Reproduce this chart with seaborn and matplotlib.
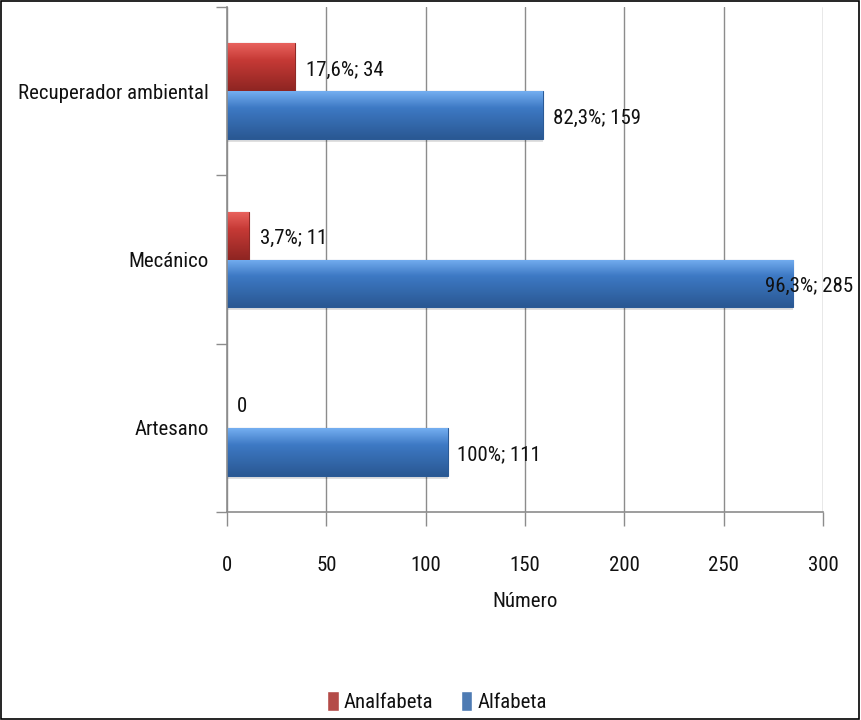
import matplotlib
matplotlib.use("Agg")
import matplotlib.pyplot as plt
import matplotlib.font_manager as fm
from matplotlib.colors import to_rgb
import numpy as np
import seaborn as sns
import pandas as pd
from matplotlib.patches import Rectangle
from matplotlib.ticker import FixedLocator

categories = ["Recuperador ambiental", "Mecánico", "Artesano"]
series_names = ["Analfabeta", "Alfabeta"]
analfabeta = [34, 11, 0]
alfabeta = [159, 285, 111]
labels_analfabeta = ["17,6%; 34", "3,7%; 11", "0"]
labels_alfabeta = ["82,3%; 159", "96,3%; 285", "100%; 111"]
colors = ["#C63A36", "#3D79C4"]
grad_stops = [["#E8625D", "#C63A36", "#8E2522"], ["#74AEF0", "#3D79C4", "#2A5893"]]
edge_colors = ["#8E2A27", "#2A5A96"]
xticks = [0, 50, 100, 150, 200, 250, 300]

sns.set_theme(style="white")

# pick a narrow font if one is installed
prefs = ["liberation sans narrow", "liberationsansnarrow", "roboto condensed",
         "robotocondensed", "open sans condensed", "opensanscondensed",
         "noto sans condensed", "notosans-condensed", "dejavu sans condensed",
         "dejavusanscondensed"]
chosen = None
ttf = fm.fontManager.ttflist
for p in prefs:
    for f in ttf:
        key = (f.name + " " + f.fname).lower().replace("-", "").replace("_", "")
        if p.replace("-", "") in key and f.weight in (400, "normal", "regular") and f.style == "normal":
            chosen = f
            break
    if chosen:
        break
if chosen is None:
    for f in ttf:
        k = f.fname.lower()
        if ("condensed" in k or "narrow" in k) and "bold" not in k and "italic" not in k and "oblique" not in k:
            chosen = f
            break

if chosen is not None:
    FP = fm.FontProperties(fname=chosen.fname)
else:
    FP = fm.FontProperties(family=["Liberation Sans", "DejaVu Sans"])

rows = []
for c, a, b in zip(categories, analfabeta, alfabeta):
    rows.append({"Ocupación": c, "Nivel": series_names[0], "Número": a})
    rows.append({"Ocupación": c, "Nivel": series_names[1], "Número": b})
df = pd.DataFrame(rows)

fig = plt.figure(figsize=(8.61, 7.2), dpi=100)

# size the font so that the longest label has the reference width (~188 px)
probe = fig.text(0, 0, categories[0], fontproperties=FP, fontsize=10)
fig.canvas.draw()
w10 = probe.get_window_extent().width
probe.remove()
FS = min(22.0, 10.0 * 190.0 / w10)
FP = FP.copy()
FP.set_size(FS)

ax = fig.add_axes([227 / 861, 1 - 512 / 720, (823 - 227) / 861, (512 - 7) / 720])

sns.barplot(data=df, y="Ocupación", x="Número", hue="Nivel", order=categories,
            hue_order=series_names, palette=colors, orient="h", width=0.57,
            ax=ax, errorbar=None, legend=True)

# gradient shading of each bar (clipped to the bar drawn by seaborn)
for cont, ec, stops in zip(ax.containers, edge_colors, grad_stops):
    c0, c1, c2 = (np.array(to_rgb(s)) for s in stops)
    n = 64
    t = np.linspace(0, 1, n)[:, None]
    grad = np.where(t < 0.35, c0 + (c1 - c0) * (t / 0.35),
                    c1 + (c2 - c1) * ((t - 0.35) / 0.65))
    img = grad[:, None, :]
    for p in cont.patches:
        p.set_edgecolor(ec)
        p.set_linewidth(0.8)
        x0, y0 = p.get_x(), p.get_y()
        w, h = p.get_width(), p.get_height()
        if w <= 0:
            p.set_visible(False)
            continue
        # soft shadow under the bar
        ax.add_patch(Rectangle((x0, y0 + h), w, h * 0.06, facecolor="#000000",
                               alpha=0.12, linewidth=0, zorder=p.get_zorder() - 0.1))
        im = ax.imshow(img, extent=(x0, x0 + w, y0 + h, y0), origin="upper",
                       aspect="auto", zorder=p.get_zorder() + 0.05, interpolation="bilinear")
        im.set_clip_path(p)

ax.set_xlim(0, 300)
ax.set_ylim(2.5, -0.5)
ax.set_aspect("auto")
ax.set_xticks(xticks)
ax.set_xticklabels([str(t) for t in xticks])
for t in ax.get_xticklabels() + ax.get_yticklabels():
    t.set_fontproperties(FP)
    t.set_color("#111111")
ax.xaxis.grid(True, color="#8C8C8C", linewidth=1.0)
ax.set_axisbelow(True)
ax.tick_params(axis="x", length=10, width=1, color="#8C8C8C", pad=22, bottom=True)
ax.tick_params(axis="y", which="major", length=0, pad=13)
ax.yaxis.set_minor_locator(FixedLocator([-0.5, 0.5, 1.5, 2.5]))
ax.tick_params(axis="y", which="minor", length=8, width=1, color="#8C8C8C", left=True)
for s in ["top", "right"]:
    ax.spines[s].set_visible(False)
for s in ["left", "bottom"]:
    ax.spines[s].set_color("#8C8C8C")
    ax.spines[s].set_linewidth(1.2)
ax.set_ylabel("")
ax.set_xlabel("Número", fontproperties=FP, labelpad=12, color="#111111")

# data labels
cont_a, cont_b = ax.containers[0], ax.containers[1]
for p, v, lab in zip(cont_a.patches, analfabeta, labels_analfabeta):
    y = p.get_y() + p.get_height() / 2
    ax.annotate(lab, (v, y), xytext=(8 if v > 0 else 7, -2),
                textcoords="offset points", ha="left", va="center",
                fontproperties=FP, color="#111111", annotation_clip=False, zorder=5)
for p, v, lab in zip(cont_b.patches, alfabeta, labels_alfabeta):
    y = p.get_y() + p.get_height() / 2
    off = -20 if v > 250 else 7
    ax.annotate(lab, (v, y), xytext=(off, -2), textcoords="offset points",
                ha="left", va="center", fontproperties=FP, color="#111111",
                annotation_clip=False, zorder=5)

leg = ax.legend(loc="lower center", bbox_to_anchor=(437 / 861, -11 / 720),
                bbox_transform=fig.transFigure, ncol=2, frameon=False,
                prop=FP, handlelength=0.55, handleheight=1.1,
                handletextpad=0.25, columnspacing=1.3)
for t in leg.get_texts():
    t.set_color("#111111")

fig.patches.append(Rectangle((0.001, 0.001), 0.997, 0.997, transform=fig.transFigure,
                             fill=False, edgecolor="black", linewidth=1.2))

fig.savefig("out.png", dpi=100)
